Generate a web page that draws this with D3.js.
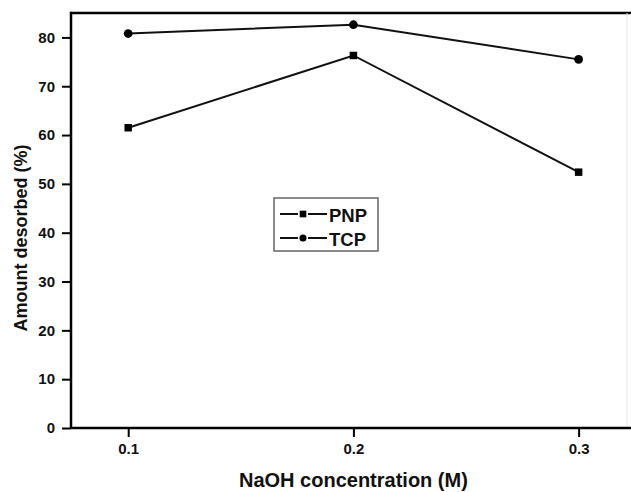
<!DOCTYPE html>
<html>
<head>
<meta charset="utf-8">
<script src="https://cdn.jsdelivr.net/npm/d3@7"></script>
<style>
  body { margin: 0; background: #fff; }
  text { font-family: "Liberation Sans", Arial, sans-serif; font-weight: bold; fill: #111; }
</style>
</head>
<body>
<div id="main"></div>
<script>
// data
const concentrations = [0.1, 0.2, 0.3];
const pnpValues = [61.5, 76.3, 52.4];
const tcpValues = [80.8, 82.6, 75.5];
const xTicks = [0.1, 0.2, 0.3];
const yTicks = [0, 10, 20, 30, 40, 50, 60, 70, 80];

const svgWidth = 631;
const svgHeight = 492;
const margin = { t: 13, r: 0, b: 64, l: 71 };

const svg = d3
  .select('#main')
  .append('svg')
  .attr('width', svgWidth)
  .attr('height', svgHeight);

const x = d3.scaleLinear().domain([0.0746, 0.3237]).range([margin.l, svgWidth + 1]);
const y = d3.scaleLinear().domain([0, 85]).range([428, margin.t]);

// frame (top and faint right edge)
svg.append('line')
  .attr('x1', margin.l).attr('x2', svgWidth)
  .attr('y1', y(85)).attr('y2', y(85))
  .attr('stroke', '#000').attr('stroke-width', 2.5);
svg.append('line')
  .attr('x1', 627).attr('x2', 627)
  .attr('y1', y(85)).attr('y2', y(0))
  .attr('stroke', '#e4e4e4').attr('stroke-width', 1);

// axes
const xAxis = d3.axisBottom(x).tickValues(xTicks).tickFormat(d3.format('.1f')).tickSize(9).tickPadding(6);
const yAxis = d3.axisLeft(y).tickValues(yTicks).tickFormat(d3.format('d')).tickSize(9).tickPadding(7);

const gx = svg.append('g').attr('transform', 'translate(0,' + y(0) + ')').call(xAxis);
const gy = svg.append('g').attr('transform', 'translate(' + margin.l + ',0)').call(yAxis);

[gx, gy].forEach(g => {
  g.attr('font-size', null).attr('font-family', null);
  g.select('.domain').attr('stroke', '#000').attr('stroke-width', 2.5);
  g.selectAll('.tick line').attr('stroke', '#000').attr('stroke-width', 2);
  g.selectAll('.tick text').style('font-size', '15px').attr('fill', '#111');
});
gx.select('.domain').attr('d', 'M' + margin.l + ',0H' + svgWidth);
gy.select('.domain').attr('d', 'M0,' + (y(85) - 1.2) + 'V' + y(0));

// axis titles
svg.append('text')
  .attr('x', x(0.2)).attr('y', 487)
  .attr('text-anchor', 'middle')
  .style('font-size', '20px')
  .text('NaOH concentration (M)');

svg.append('text')
  .attr('transform', 'translate(27,238) rotate(-90)')
  .attr('text-anchor', 'middle')
  .style('font-size', '18px')
  .text('Amount desorbed (%)');

// series
const series = [
  { name: 'PNP', values: pnpValues, marker: 'square' },
  { name: 'TCP', values: tcpValues, marker: 'circle' }
];

const line = d3.line()
  .x((d, i) => x(concentrations[i]))
  .y(d => y(d));

series.forEach(s => {
  svg.append('path')
    .datum(s.values)
    .attr('fill', 'none')
    .attr('stroke', '#111')
    .attr('stroke-width', 2)
    .attr('d', line);

  const sym = d3.symbol()
    .type(s.marker === 'square' ? d3.symbolSquare : d3.symbolCircle)
    .size(s.marker === 'square' ? 56 : 60);

  svg.selectAll('.m-' + s.name)
    .data(s.values)
    .enter()
    .append('path')
    .attr('class', 'm-' + s.name)
    .attr('transform', (d, i) => 'translate(' + x(concentrations[i]) + ',' + y(d) + ')')
    .attr('d', sym)
    .attr('fill', '#000');
});

// legend
const legend = svg.append('g').attr('transform', 'translate(274,198)');
legend.append('rect')
  .attr('width', 104).attr('height', 53)
  .attr('fill', '#fff')
  .attr('stroke', '#666').attr('stroke-width', 1.5);

series.forEach((s, i) => {
  const ly = 16 + i * 24;
  [[6, 24], [34, 53]].forEach(seg => {
    legend.append('line')
      .attr('x1', seg[0]).attr('x2', seg[1])
      .attr('y1', ly).attr('y2', ly)
      .attr('stroke', '#111').attr('stroke-width', 2);
  });
  legend.append('path')
    .attr('transform', 'translate(29,' + ly + ')')
    .attr('d', d3.symbol()
      .type(s.marker === 'square' ? d3.symbolSquare : d3.symbolCircle)
      .size(s.marker === 'square' ? 44 : 40))
    .attr('fill', '#000');
  legend.append('text')
    .attr('x', 55).attr('y', ly + 7.5)
    .style('font-size', '18.5px')
    .text(s.name);
});
</script>
</body>
</html>
